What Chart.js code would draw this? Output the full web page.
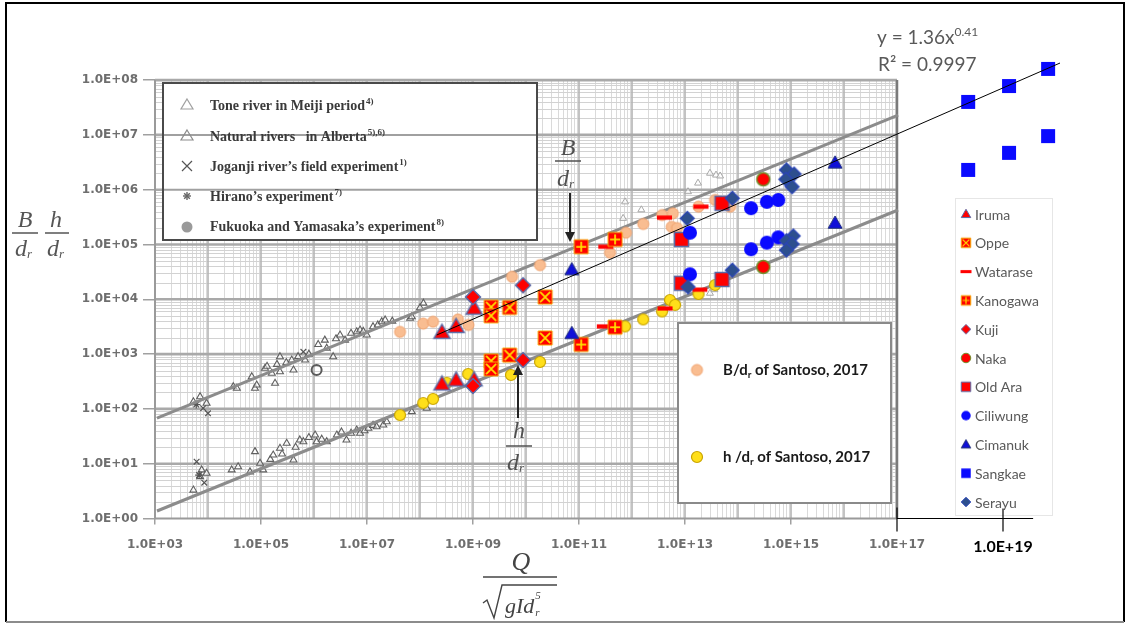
<!DOCTYPE html>
<html>
<head>
<meta charset="utf-8">
<script src="https://cdn.jsdelivr.net/npm/chart.js@4.4.1/dist/chart.umd.min.js"></script>
<style>
  html, body { margin: 0; padding: 0; background: #ffffff; overflow: hidden; }
  canvas { display: block; }
</style>
</head>
<body>
<canvas id="c" width="1129" height="626"></canvas>
<script>
// ---------- axis ticks ----------
const xTickValues = [1e3, 1e5, 1e7, 1e9, 1e11, 1e13, 1e15, 1e17, 1e19];
const yTickValues = [1e0, 1e1, 1e2, 1e3, 1e4, 1e5, 1e6, 1e7, 1e8];

// ---------- earlier data: [Q/sqrt(gIdr^5), B/dr or h/dr] ----------
const albertaB = [[5.3e3,135],[9.4e3,127],[7.1e3,167],[3.0e4,254],[3.5e4,238],[7.7e4,238],[8.3e4,273],[6.7e4,387],
  [1.19e5,551],[1.3e5,600],[1.6e5,446],[1.84e5,293],[2.0e5,650],[2.28e5,477],[2.28e5,897],[3.0e5,700],[3.8e5,780],
  [4.1e5,513],[5.0e5,900],[6.8e5,780],[8.0e5,1.0e3],[1.2e6,1.5e3],[1.6e6,1.8e3],[1.74e6,1.28e3],[2.3e6,897],
  [2.6e6,1.9e3],[3.1e6,2.23e3],[3.85e6,1.8e3],[5.0e6,2.4e3],[6.4e6,2.56e3],[7.4e6,2.75e3],[8.5e6,2.6e3],[9.9e6,2.23e3],
  [1.3e7,3.16e3],[1.6e7,3.4e3],[1.9e7,3.9e3],[2.2e7,4.2e3],[3.0e7,4.0e3],[6.5e7,4.5e3],[7.0e7,4.8e3],[1.0e8,7.0e3],[1.16e8,8.5e3]];
const albertaH = [[7.6e3,7.7],[7.1e3,5.8],[9.4e3,6.7],[5.3e3,3.3],[2.8e4,7.7],[3.7e4,8.8],[6.2e4,7.1],[7.7e4,16.6],
  [9.6e4,10.2],[1.1e5,7.7],[1.5e5,12],[1.7e5,14.4],[2.28e5,19.1],[2.5e5,15],[3.05e5,23.6],[4.1e5,11.7],[4.5e5,20],
  [5.4e5,27.1],[6.3e5,25.2],[8.0e5,30],[1.05e6,33.4],[1.12e6,25.2],[1.4e6,28],[1.74e6,25.2],[2.7e6,33.4],[3.3e6,38],
  [4.1e6,27.1],[5.0e6,36],[6.4e6,41.2],[7.4e6,35.9],[9.0e6,40],[1.06e7,44.3],[1.3e7,50],[1.52e7,47.3],[2.03e7,51],
  [2.36e7,58.4],[7.0e7,89],[1.34e8,103]];
const toneB = [[6.8e11,3.0e5],[7.4e11,6.0e5],[1.5e12,4.3e5],[1.14e13,9.2e5],[1.76e13,1.32e6],[2.96e13,2.0e6],[3.85e13,1.85e6],[4.6e13,1.78e6]];
const toneH = [[2.96e13,1.29e4],[3.6e13,1.5e4]];
const joganjiB = [[8.1e3,103],[1.0e4,83],[6.3e5,1.1e3]];
const joganjiH = [[6.1e3,10.9],[8.5e3,4.5]];
const hiranoB = [[6.0e3,120]];
const hiranoH = [[6.8e3,6.2]];
const fukuoka = [[1.12e6,513]];
const fitB = [[1.09e3,68],[1.05e17,2.3e7]];
const fitH = [[1.09e3,1.37],[1.05e17,4.26e5]];

// ---------- rivers (B/dr and h/dr) ----------
const irumaB = [[2.6e8,2.5e3],[4.8e8,3.2e3],[1.05e9,6.9e3]];
const irumaH = [[2.6e8,285],[4.8e8,337],[1.05e9,340]];
const oppeB = [[2.2e9,7.2e3],[2.2e9,5.0e3],[4.9e9,7.1e3],[2.3e10,1.1e4]];
const oppeH = [[2.2e9,750],[2.2e9,535],[4.9e9,960],[2.3e10,1.97e3]];
const wataraseB = [[3.2e11,9.1e4],[4.1e12,3.1e5],[2.0e13,4.9e5]];
const wataraseH = [[3.0e11,3.2e3],[4.2e12,6.8e3],[1.9e13,1.5e4]];
const kanogawaB = [[1.1e11,9.1e4],[4.8e11,1.24e5]];
const kanogawaH = [[4.8e11,3.1e3],[1.1e11,1.5e3]];
const kujiB = [[1.0e9,1.1e4],[8.8e9,1.8e4]];
const kujiH = [[8.8e9,780],[1.0e9,262]];
const nakaB = [[3.0e14,1.55e6]];
const nakaH = [[3.0e14,3.9e4]];
const oldAraB = [[8.6e12,1.24e5],[5.0e13,5.65e5]];
const oldAraH = [[8.6e12,1.96e4],[5.0e13,2.3e4]];
const ciliwungB = [[1.24e13,1.64e5],[1.76e14,4.6e5],[3.5e14,6.0e5],[5.75e14,6.5e5]];
const ciliwungH = [[1.24e13,2.86e4],[1.76e14,8.2e4],[3.5e14,1.08e5],[5.75e14,1.35e5]];
const cimanukB = [[7.3e10,3.5e4],[6.8e15,3.1e6]];
const cimanukH = [[7.3e10,2.4e3],[6.8e15,2.47e5]];
const sangkaeB = [[2.2e18,4.0e7],[1.3e19,7.8e7],[7.1e19,1.6e8]];
const sangkaeH = [[2.2e18,2.3e6],[1.3e19,4.7e6],[7.1e19,9.5e6]];
const serayuB = [[1.1e13,3.0e5],[7.8e13,7.0e5],[8.2e14,2.3e6],[1.14e15,1.93e6],[8.0e14,1.55e6],[1.05e15,1.13e6]];
const serayuH = [[1.14e13,1.68e4],[7.8e13,3.4e4],[1.1e15,1.43e5],[8.2e14,1.17e5],[1.05e15,1.02e5],[8.2e14,7.9e4]];
const santosoB = [[4.2e7,2.55e3],[1.15e8,3.6e3],[1.76e8,3.9e3],[5.2e8,4.3e3],[8.2e8,3.4e3],[5.45e9,2.58e4],[1.84e10,4.2e4],
  [3.85e11,7.1e4],[7.7e11,1.64e5],[1.63e12,2.37e5],[3.7e12,3.45e5],[5.9e12,3.7e5],[5.6e12,2.1e5],[7.1e12,2.0e5],
  [1.8e13,4.9e5],[3.7e13,6.5e5],[7.1e13,4.9e5]];
const santosoH = [[4.2e7,77],[1.15e8,128],[1.76e8,152],[3.2e8,300],[8.1e8,434],[5.2e9,416],[1.84e10,718],[7.4e11,3.2e3],
  [1.63e12,4.3e3],[3.7e12,6.0e3],[5.2e12,9.7e3],[6.5e12,7.9e3],[1.8e13,1.25e4],[3.7e13,1.82e4]];
// power trend y = 1.36x^0.41, end points
const trendLine = [[2.07e8,2.23e3],[1.19e20,2.05e8]];

// ---------- marker images ----------
function mk(kind, s, fill, stroke, lw, accent) {
  const W = Math.ceil(s + 2 * (lw || 0) + 2);
  const c = document.createElement('canvas');
  c.width = W; c.height = W;
  const g = c.getContext('2d');
  const m = W / 2, h = s / 2;
  g.beginPath();
  if (kind === 'tri') { g.moveTo(m, m - h); g.lineTo(m + h, m + h * 0.75); g.lineTo(m - h, m + h * 0.75); g.closePath(); }
  else if (kind === 'diamond') { g.moveTo(m, m - h); g.lineTo(m + h, m); g.lineTo(m, m + h); g.lineTo(m - h, m); g.closePath(); }
  else if (kind === 'circle') { g.arc(m, m, h, 0, Math.PI * 2); }
  else if (kind === 'dash') { g.rect(m - h, m - s * 0.14, s, s * 0.28); }
  else { g.rect(m - h, m - h, s, s); }
  g.fillStyle = fill; g.fill();
  if (stroke && lw) { g.strokeStyle = stroke; g.lineWidth = lw; g.stroke(); }
  if (kind === 'squareX' || kind === 'squarePlus') {
    g.strokeStyle = accent; g.lineWidth = Math.max(1, s / 8);
    const k = h * 0.72;
    g.beginPath();
    if (kind === 'squareX') { g.moveTo(m - k, m - k); g.lineTo(m + k, m + k); g.moveTo(m + k, m - k); g.lineTo(m - k, m + k); }
    else { g.moveTo(m, m - k); g.lineTo(m, m + k); g.moveTo(m - k, m); g.lineTo(m + k, m); }
    g.stroke();
  }
  return c;
}

const RED = '#ff0000', SLATE = '#5a6aa6', BLUE = '#0a0aff', NAVY = '#2d4f8e';
const rivers = [
  { label: 'Iruma',    B: irumaB,    H: irumaH,    kind: 'tri',        s: 16, fill: RED,  stroke: SLATE,     lw: 1.5 },
  { label: 'Oppe',     B: oppeB,     H: oppeH,     kind: 'squareX',    s: 14, fill: RED,  stroke: '#f6a800', lw: 1, accent: '#ffe100' },
  { label: 'Watarase', B: wataraseB, H: wataraseH, kind: 'dash',       s: 15, fill: RED,  stroke: null,      lw: 0 },
  { label: 'Kanogawa', B: kanogawaB, H: kanogawaH, kind: 'squarePlus', s: 14, fill: RED,  stroke: '#f6a800', lw: 1, accent: '#ffe100' },
  { label: 'Kuji',     B: kujiB,     H: kujiH,     kind: 'diamond',    s: 15, fill: RED,  stroke: SLATE,     lw: 1.5 },
  { label: 'Naka',     B: nakaB,     H: nakaH,     kind: 'circle',     s: 13, fill: RED,  stroke: '#6f8f2a', lw: 1.5 },
  { label: 'Old Ara',  B: oldAraB,   H: oldAraH,   kind: 'square',     s: 14, fill: RED,  stroke: SLATE,     lw: 1.5 },
  { label: 'Ciliwung', B: ciliwungB, H: ciliwungH, kind: 'circle',     s: 14, fill: BLUE, stroke: null,      lw: 0 },
  { label: 'Cimanuk',  B: cimanukB,  H: cimanukH,  kind: 'tri',        s: 14, fill: '#1010d8', stroke: '#1f2f7a', lw: 1 },
  { label: 'Sangkae',  B: sangkaeB,  H: sangkaeH,  kind: 'square',     s: 14, fill: BLUE, stroke: null,      lw: 0 },
  { label: 'Serayu',   B: serayuB,   H: serayuH,   kind: 'diamond',    s: 14, fill: NAVY, stroke: '#2b45b8', lw: 1.2 }
];
rivers.forEach(r => {
  r.img = mk(r.kind, r.s, r.fill, r.stroke, r.lw, r.accent);
  r.legendImg = mk(r.kind, r.kind === 'dash' ? 11 : 9.5, r.fill, r.stroke, r.lw ? 1 : 0, r.accent);
});
const santosoBImg = mk('circle', 11, '#f9bd91', '#f0a06a', 1);
const santosoHImg = mk('circle', 11, '#ffdf1a', '#c9a400', 1.2);

const toXY = a => a.map(([x, y]) => ({ x, y }));

// datasets: the first one is painted on top
const datasets = [];
datasets.push({ label: 'trend', data: toXY(trendLine), showLine: true, borderColor: '#000', borderWidth: 1, pointRadius: 0 });
rivers.slice().reverse().forEach(r => {
  datasets.push({ label: r.label, data: toXY(r.B.concat(r.H)), pointStyle: r.img, pointRadius: r.s / 2 });
});
datasets.push({ label: 'h/dr of Santoso, 2017', data: toXY(santosoH), pointStyle: santosoHImg, pointRadius: 5 });
datasets.push({ label: 'B/dr of Santoso, 2017', data: toXY(santosoB), pointStyle: santosoBImg, pointRadius: 5 });
datasets.push({ label: 'fitB', data: toXY(fitB), showLine: true, borderColor: '#8c8c8c', borderWidth: 3, pointRadius: 0 });
datasets.push({ label: 'fitH', data: toXY(fitH), showLine: true, borderColor: '#8c8c8c', borderWidth: 3, pointRadius: 0 });
datasets.push({ label: 'Fukuoka', data: toXY(fukuoka), pointStyle: 'circle', pointRadius: 5, borderColor: '#5a5a5a', borderWidth: 2, backgroundColor: 'rgba(0,0,0,0)' });
datasets.push({ label: 'Hirano', data: toXY(hiranoB.concat(hiranoH)), pointStyle: 'star', pointRadius: 4, borderColor: '#555', borderWidth: 1.2 });
datasets.push({ label: 'Joganji', data: toXY(joganjiB.concat(joganjiH)), pointStyle: 'crossRot', pointRadius: 4, borderColor: '#555', borderWidth: 1.2 });
datasets.push({ label: 'Tone', data: toXY(toneB.concat(toneH)), pointStyle: 'triangle', pointRadius: 4, borderColor: '#a8a8a8', borderWidth: 1, backgroundColor: 'rgba(255,255,255,0.6)' });
datasets.push({ label: 'Alberta', data: toXY(albertaB.concat(albertaH)), pointStyle: 'triangle', pointRadius: 4, borderColor: '#606060', borderWidth: 1.1, backgroundColor: 'rgba(255,255,255,0.5)' });

function sci(v) {
  const e = Math.round(Math.log10(v));
  return '1.0E+' + (e < 10 ? '0' : '') + e;
}

// text runs with sub / superscripts
function rich(ctx, x, y, parts, color) {
  ctx.fillStyle = color;
  ctx.textBaseline = 'alphabetic';
  ctx.textAlign = 'left';
  let cx = x;
  parts.forEach(p => {
    ctx.font = p.font;
    ctx.fillText(p.t, cx, y + (p.dy || 0));
    cx += ctx.measureText(p.t).width + (p.gap || 0);
  });
  return cx;
}

function hline(ctx, x1, x2, yy) { ctx.beginPath(); ctx.moveTo(x1, yy); ctx.lineTo(x2, yy); ctx.stroke(); }
function vline(ctx, xx, y1, y2) { ctx.beginPath(); ctx.moveTo(xx, y1); ctx.lineTo(xx, y2); ctx.stroke(); }

const deco = {
  id: 'deco',
  beforeDatasetsDraw(chart) {
    const ctx = chart.ctx, X = chart.scales.x, Y = chart.scales.y;
    const xl = X.getPixelForValue(1e3), xr = X.getPixelForValue(1e17);
    const yt = Y.getPixelForValue(1e8), yb = Y.getPixelForValue(1);
    ctx.save();
    // log grid of the earlier diagram
    ctx.lineWidth = 1;
    ctx.strokeStyle = '#dadada';
    for (let e = 3; e < 17; e++) for (let m = 2; m <= 9; m++) {
      const px = Math.round(X.getPixelForValue(m * Math.pow(10, e))) + 0.5;
      vline(ctx, px, yt, yb);
    }
    ctx.strokeStyle = '#d2d2d2';
    for (let e = 0; e < 8; e++) for (let m = 2; m <= 9; m++) {
      const py = Math.round(Y.getPixelForValue(m * Math.pow(10, e))) + 0.5;
      hline(ctx, xl, xr, py);
    }
    ctx.strokeStyle = '#b4b4b4'; ctx.lineWidth = 1.6;
    for (let e = 4; e < 17; e++) vline(ctx, X.getPixelForValue(Math.pow(10, e)), yt, yb);
    ctx.strokeStyle = '#a9a9a9'; ctx.lineWidth = 2.6;
    for (let e = 1; e <= 8; e++) hline(ctx, xl, xr, Y.getPixelForValue(Math.pow(10, e)));
    // axis lines and right border
    ctx.strokeStyle = '#9a9a9a'; ctx.lineWidth = 2;
    vline(ctx, xl, yt, yb);
    hline(ctx, xl, xr, yb);
    ctx.strokeStyle = '#7a7a7a'; ctx.lineWidth = 2.5;
    vline(ctx, xr, yt, yb);

    // legend of the earlier diagram
    const bx = 163, by = 83, bw = 374, bh = 157;
    ctx.fillStyle = '#ffffff';
    ctx.fillRect(bx, by, bw, bh);
    ctx.strokeStyle = '#a0a0a0'; ctx.lineWidth = 2;
    yTickValues.forEach(v => {
      const py = Y.getPixelForValue(v);
      if (py > by + 2 && py < by + bh - 2) hline(ctx, bx, bx + bw, py);
    });
    ctx.strokeStyle = '#4a4a4a'; ctx.lineWidth = 2;
    ctx.strokeRect(bx, by, bw, bh);
    const serif = 'bold 14px "Liberation Serif", "DejaVu Serif", serif';
    const sup = 'bold 9px "Liberation Serif", serif';
    const rows = [
      ['Tone river in Meiji period', '4)', 105],
      ['Natural rivers   in Alberta', '5),6)', 136],
      ['Joganji river\u2019s field experiment', '1)', 166],
      ['Hirano\u2019s experiment', '7)', 196],
      ['Fukuoka and Yamasaka\u2019s experiment', '8)', 226]
    ];
    rows.forEach(r => {
      rich(ctx, 210, r[2] + 5, [{ t: r[0], font: serif, gap: 1 }, { t: r[1], font: sup, dy: -6 }], '#3a3a3a');
    });
    const sx = 187;
    ctx.lineWidth = 1.2;
    ctx.strokeStyle = '#a0a0a0';
    ctx.beginPath(); ctx.moveTo(sx, 99); ctx.lineTo(sx + 6, 109); ctx.lineTo(sx - 6, 109); ctx.closePath(); ctx.stroke();
    ctx.strokeStyle = '#8c8c8c';
    ctx.beginPath(); ctx.moveTo(sx, 130); ctx.lineTo(sx + 6, 140); ctx.lineTo(sx - 6, 140); ctx.closePath(); ctx.stroke();
    ctx.strokeStyle = '#555';
    ctx.beginPath(); ctx.moveTo(sx - 5, 161); ctx.lineTo(sx + 5, 171); ctx.moveTo(sx + 5, 161); ctx.lineTo(sx - 5, 171); ctx.stroke();
    ctx.strokeStyle = '#666'; ctx.lineWidth = 1.4;
    for (let k = 0; k < 4; k++) {
      const a = k * Math.PI / 4;
      ctx.beginPath(); ctx.moveTo(sx - 4 * Math.cos(a), 196 - 4 * Math.sin(a)); ctx.lineTo(sx + 4 * Math.cos(a), 196 + 4 * Math.sin(a)); ctx.stroke();
    }
    ctx.fillStyle = '#9a9a9a';
    ctx.beginPath(); ctx.arc(sx, 227, 5.5, 0, Math.PI * 2); ctx.fill();

    // Santoso legend box
    ctx.fillStyle = '#ffffff';
    ctx.fillRect(678, 323, 213, 180);
    ctx.strokeStyle = '#8a8a8a'; ctx.lineWidth = 2;
    ctx.strokeRect(678, 323, 213, 180);
    ctx.restore();
  },
  afterDatasetsDraw(chart) {
    const ctx = chart.ctx, X = chart.scales.x, Y = chart.scales.y;
    ctx.save();
    const cal = '"Lato", "Open Sans", sans-serif';

    // Santoso legend entries
    ctx.drawImage(santosoBImg, 697 - santosoBImg.width / 2, 370 - santosoBImg.height / 2);
    ctx.drawImage(santosoHImg, 697 - santosoHImg.width / 2, 457 - santosoHImg.height / 2);
    const bold = 'bold 15px ' + cal, subB = 'bold 10px ' + cal;
    rich(ctx, 723, 375, [{ t: 'B/d', font: bold }, { t: 'r', font: subB, dy: 3 }, { t: ' of Santoso, 2017', font: bold }], '#1a1a1a');
    rich(ctx, 723, 462, [{ t: 'h /d', font: bold }, { t: 'r', font: subB, dy: 3 }, { t: ' of Santoso, 2017', font: bold }], '#1a1a1a');

    // river legend
    ctx.strokeStyle = '#e6e6e6'; ctx.lineWidth = 1;
    ctx.strokeRect(955.5, 198.5, 97, 317);
    rivers.forEach((r, i) => {
      const cy = 214 + i * 28.8;
      ctx.drawImage(r.legendImg, 966 - r.legendImg.width / 2, cy - r.legendImg.height / 2);
      ctx.font = '14px ' + cal;
      ctx.fillStyle = '#595959';
      ctx.textAlign = 'left'; ctx.textBaseline = 'middle';
      ctx.fillText(r.label, 975, cy + 1);
    });

    // trend equation
    const eq = '19px ' + cal;
    rich(ctx, 877, 44, [{ t: 'y = 1.36x', font: eq }, { t: '0.41', font: '12px ' + cal, dy: -8 }], '#595959');
    rich(ctx, 878, 71, [{ t: 'R\u00b2 = 0.9997', font: eq }], '#595959');

    // second horizontal axis segment
    const x17 = X.getPixelForValue(1e17), x19 = X.getPixelForValue(1e19), yb = Y.getPixelForValue(1);
    ctx.strokeStyle = '#000'; ctx.lineWidth = 1.2;
    hline(ctx, x17, X.getPixelForValue(3.7e19), yb);
    vline(ctx, x17, yb - 11, yb + 13);
    vline(ctx, x19, yb - 10, yb + 13);

    // annotations in the plot
    const it = 'italic 24px "Liberation Serif", "DejaVu Serif", serif';
    const itSub = 'italic 13px "Liberation Serif", serif';
    ctx.fillStyle = '#505050'; ctx.strokeStyle = '#505050';
    ctx.textAlign = 'center'; ctx.textBaseline = 'alphabetic';
    ctx.font = it; ctx.fillText('B', 568, 155);
    ctx.lineWidth = 1.5; hline(ctx, 555, 581, 161);
    rich(ctx, 557, 186, [{ t: 'd', font: it }, { t: 'r', font: itSub, dy: 2 }], '#505050');
    ctx.strokeStyle = '#222'; ctx.fillStyle = '#222'; ctx.lineWidth = 2;
    vline(ctx, 570, 193, 234);
    ctx.beginPath(); ctx.moveTo(570, 242); ctx.lineTo(565, 232); ctx.lineTo(575, 232); ctx.closePath(); ctx.fill();

    vline(ctx, 518, 373, 418);
    ctx.beginPath(); ctx.moveTo(518, 365); ctx.lineTo(513, 375); ctx.lineTo(523, 375); ctx.closePath(); ctx.fill();
    ctx.fillStyle = '#505050'; ctx.strokeStyle = '#505050';
    ctx.textAlign = 'center';
    ctx.font = it; ctx.fillText('h', 519, 438);
    ctx.lineWidth = 1.5; hline(ctx, 506, 532, 446);
    rich(ctx, 507, 470, [{ t: 'd', font: it }, { t: 'r', font: itSub, dy: 2 }], '#505050');

    // y-axis title
    ctx.textAlign = 'center';
    ctx.fillStyle = '#555';
    ctx.font = it; ctx.fillText('B', 25, 227);
    ctx.fillText('h', 56, 227);
    ctx.strokeStyle = '#555'; ctx.lineWidth = 1.5;
    hline(ctx, 12, 38, 233); hline(ctx, 45, 69, 233);
    rich(ctx, 15, 256, [{ t: 'd', font: it }, { t: 'r', font: itSub, dy: 2 }], '#555');
    rich(ctx, 47, 256, [{ t: 'd', font: it }, { t: 'r', font: itSub, dy: 2 }], '#555');

    // x-axis title
    ctx.fillStyle = '#444'; ctx.strokeStyle = '#444';
    ctx.textAlign = 'center';
    ctx.font = 'italic 26px "Liberation Serif", serif';
    ctx.fillText('Q', 521, 570);
    ctx.lineWidth = 1.6; hline(ctx, 483, 557, 577);
    ctx.lineWidth = 1.4;
    ctx.beginPath(); ctx.moveTo(483, 603); ctx.lineTo(487, 600); ctx.lineTo(494, 618); ctx.lineTo(502, 585); ctx.lineTo(557, 585); ctx.stroke();
    const gEnd = rich(ctx, 505, 613, [{ t: 'gId', font: 'italic 22px "Liberation Serif", serif' }], '#444');
    ctx.font = 'italic 11px "Liberation Serif", serif';
    ctx.textAlign = 'left';
    ctx.fillText('5', gEnd + 1, 599);
    ctx.fillText('r', gEnd + 1, 616);

    // frame
    ctx.strokeStyle = '#000'; ctx.lineWidth = 2;
    ctx.beginPath(); ctx.moveTo(6, 622); ctx.lineTo(6, 3); ctx.lineTo(1124, 3); ctx.lineTo(1124, 622); ctx.stroke();
    ctx.strokeStyle = '#8c8c8c';
    hline(ctx, 6, 1124, 622);
    ctx.restore();
  }
};

new Chart(document.getElementById('c'), {
  type: 'scatter',
  data: { datasets },
  options: {
    responsive: false,
    animation: false,
    devicePixelRatio: 1,
    events: [],
    layout: { padding: { left: 0, top: 52.7, right: 62.4, bottom: 0 } },
    plugins: { legend: { display: false }, tooltip: { enabled: false } },
    scales: {
      x: {
        type: 'logarithmic', position: 'bottom',
        min: 1e3, max: Math.pow(10, 20.2),
        afterBuildTicks: s => { s.ticks = xTickValues.map(v => ({ value: v })); },
        afterFit: s => { s.height = 107.5; },
        border: { display: false },
        grid: {
          drawOnChartArea: false, drawTicks: true, tickLength: 6, lineWidth: 1.5,
          color: c => (c.tick && c.tick.value >= 1e17) ? 'rgba(0,0,0,0)' : '#a0a0a0'
        },
        ticks: {
          autoSkip: false, maxRotation: 0, minRotation: 0, padding: 13,
          callback: v => sci(v),
          color: c => (c.tick && c.tick.value === 1e19) ? '#000000' : '#6e6e6e',
          font: c => (c.tick && c.tick.value === 1e19)
            ? { family: 'Lato', size: 16, weight: 'bold' }
            : { family: 'DejaVu Sans', size: 12, weight: 'bold' }
        }
      },
      y: {
        type: 'logarithmic', position: 'left',
        min: 1, max: Math.pow(10, 8.5),
        afterBuildTicks: s => { s.ticks = yTickValues.map(v => ({ value: v })); },
        afterFit: s => { s.width = 155; },
        border: { display: false },
        grid: { drawOnChartArea: false, drawTicks: true, tickLength: 12, lineWidth: 1.5, color: '#a0a0a0' },
        ticks: {
          autoSkip: false, padding: 5,
          callback: v => sci(v),
          color: '#6e6e6e',
          font: { family: 'DejaVu Sans', size: 12, weight: 'bold' }
        }
      }
    }
  },
  plugins: [deco]
});
</script>
</body>
</html>
